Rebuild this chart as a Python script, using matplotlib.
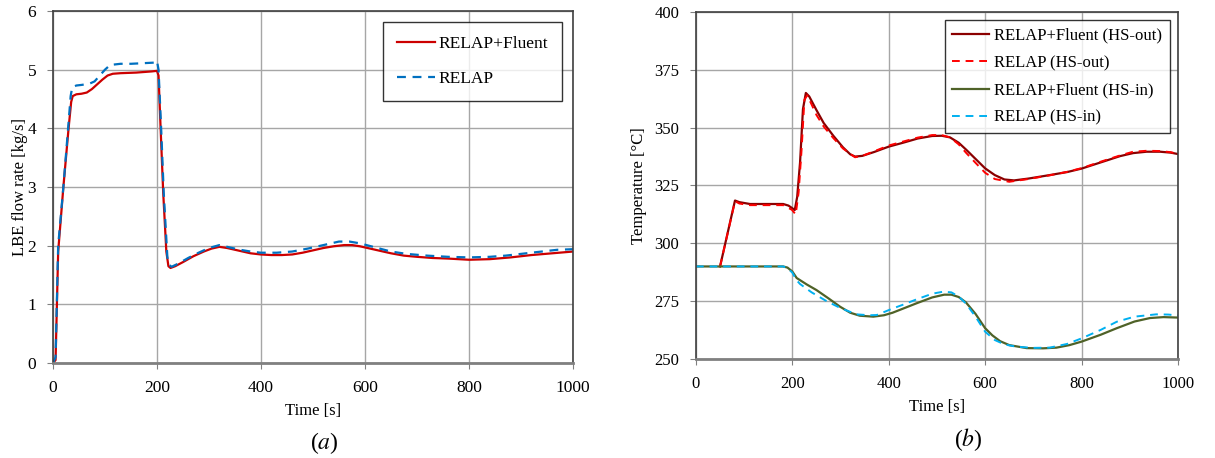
import matplotlib.pyplot as plt

plt.rcParams['font.family'] = ['Liberation Serif', 'DejaVu Serif']
plt.rcParams['mathtext.fontset'] = 'stix'

# (a) LBE flow rate [kg/s]
t_fl = [0, 5, 10, 20, 30, 35, 38, 45, 55, 65, 75, 85, 95, 105, 115, 130, 160, 190,
        200, 203, 207, 212, 218, 222, 226, 235, 250, 270, 290, 305, 320, 335, 350,
        365, 380, 400, 420, 440, 460, 480, 500, 520, 540, 560, 575, 590, 610, 630,
        650, 675, 700, 730, 760, 800, 840, 880, 920, 960, 1000]
fl_coupled = [0, 0.05, 1.9, 3.0, 4.0, 4.45, 4.55, 4.58, 4.59, 4.61, 4.67, 4.75, 4.83,
              4.9, 4.93, 4.94, 4.95, 4.97, 4.98, 4.9, 4.0, 2.9, 1.9, 1.65, 1.62, 1.65,
              1.72, 1.82, 1.9, 1.95, 1.98, 1.96, 1.93, 1.9, 1.87, 1.85, 1.84, 1.84,
              1.85, 1.88, 1.92, 1.96, 1.99, 2.01, 2.01, 1.99, 1.95, 1.91, 1.87, 1.83,
              1.81, 1.79, 1.78, 1.76, 1.77, 1.8, 1.84, 1.87, 1.9]
t_fl_r = [0, 5, 10, 20, 30, 34, 37, 45, 55, 70, 80, 90, 100, 110, 130, 150, 195, 200,
          203, 208, 213, 220, 224, 228, 240, 260, 280, 300, 320, 340, 360, 380, 400,
          430, 460, 490, 520, 550, 570, 590, 620, 650, 680, 720, 760, 800, 840, 870,
          900, 940, 970, 1000]
fl_relap = [0, 0.1, 2.0, 3.0, 4.1, 4.55, 4.7, 4.73, 4.74, 4.76, 4.8, 4.9, 5.0, 5.08,
            5.1, 5.1, 5.12, 5.15, 5.0, 4.0, 2.9, 1.8, 1.67, 1.64, 1.69, 1.79, 1.88,
            1.96, 2.01, 1.97, 1.93, 1.9, 1.88, 1.88, 1.9, 1.95, 2.01, 2.07, 2.07,
            2.04, 1.97, 1.9, 1.86, 1.83, 1.81, 1.80, 1.81, 1.83, 1.86, 1.9, 1.93, 1.94]

# (b) temperatures [°C]
t_out = [50, 81, 90, 112, 150, 181, 192, 199, 205, 210, 216, 222, 228, 235, 250, 265,
         285, 305, 320, 330, 345, 370, 400, 430, 460, 490, 510, 527, 545, 561, 580,
         600, 620, 640, 660, 690, 734, 770, 800, 840, 880, 907, 935, 963, 985, 1000]
out_coupled = [290, 318.5, 317.8, 317, 317, 317, 316.3, 315.3, 314.4, 320, 335, 358,
               365, 363.5, 357.6, 352, 346.5, 341.5, 338.5, 337.5, 337.8, 339.5,
               341.8, 343.5, 345.3, 346.4, 346.5, 345.8, 343.5, 340.4, 336.5, 332.4,
               329.5, 327.6, 327.2, 328, 329.5, 330.8, 332.3, 335, 337.7, 339.0,
               339.6, 339.6, 339.2, 338.6]
t_out_r = [50, 81, 90, 112, 150, 181, 199, 207, 213, 219, 225, 231, 250, 265, 285,
           305, 330, 345, 370, 400, 430, 460, 490, 510, 527, 545, 561, 580, 600, 620,
           650, 690, 734, 770, 800, 840, 880, 907, 935, 963, 985, 1000]
out_relap = [290, 318.2, 317.2, 316.5, 316.5, 316.5, 314.5, 312.5, 322, 340, 362, 364,
             355.5, 350.5, 345.5, 341, 337.2, 337.8, 339.8, 342.3, 344, 345.7, 346.8,
             346.8, 345.8, 342.8, 339, 334.8, 330.5, 327.8, 326.6, 327.8, 329.4,
             330.9, 332.5, 335.3, 338, 339.6, 340, 339.9, 339.4, 338.6]
t_in = [0, 181, 190, 200, 209, 230, 250, 275, 299, 320, 340, 368, 390, 408, 430, 458,
        490, 515, 530, 545, 560, 580, 600, 615, 631, 650, 686, 720, 748, 775, 800,
        840, 873, 910, 942, 970, 1000]
in_coupled = [290, 290, 289.5, 287.8, 285, 282.2, 279.8, 276.2, 272.6, 270.0, 268.7,
              268.3, 268.9, 270.0, 271.8, 274.1, 276.6, 277.8, 277.8, 276.8, 274.5,
              269.5, 263.3, 260.2, 257.7, 256, 254.7, 254.6, 254.9, 256, 257.5,
              260.5, 263.3, 266.2, 267.7, 268.1, 267.9]
t_in_r = [0, 181, 190, 200, 209, 216, 240, 271, 300, 333, 360, 375, 408, 430, 458,
          490, 513, 530, 545, 560, 580, 600, 620, 640, 665, 700, 734, 770, 800, 840,
          873, 910, 955, 980, 1000]
in_relap = [290, 290, 289.3, 287.3, 284, 282.4, 278.8, 275, 272, 269.3, 268.9, 269,
            271.8, 273.5, 275.8, 278.2, 279.1, 278.8, 277, 274, 268.3, 261.8, 258.2,
            256.3, 255.3, 254.8, 254.9, 256.5, 258.9, 262.6, 266.1, 268.3, 269.3,
            269.2, 268.8]

fig = plt.figure(figsize=(12.15, 4.58), dpi=100)
ax1 = fig.add_axes([0.0436, 0.2074, 0.428, 0.7686])
ax2 = fig.add_axes([0.5728, 0.2162, 0.3967, 0.7576])

ax1.plot(t_fl, fl_coupled, color='#CC0000', lw=1.6, label='RELAP+Fluent')
ax1.plot(t_fl_r, fl_relap, color='#0070C0', lw=1.6, ls=(0, (4, 3)), label='RELAP')
ax1.set_xlim(0, 1000)
ax1.set_ylim(0, 6)
ax1.set_xticks(range(0, 1001, 200))
ax1.set_yticks(range(0, 7))
ax1.set_xlabel('Time [s]', fontsize=12, labelpad=5)
ax1.set_ylabel('LBE flow rate [kg/s]', fontsize=12, labelpad=0)
leg1 = ax1.legend(loc='upper right', fontsize=12.5, labelspacing=1.07,
                  fancybox=False, edgecolor='black', borderpad=0.8,
                  borderaxespad=0.63, handlelength=2.2, handletextpad=0.2)

ax2.plot(t_out, out_coupled, color='#8B0000', lw=1.6, label='RELAP+Fluent (HS-out)')
ax2.plot(t_out_r, out_relap, color='#FF0000', lw=1.4, ls=(0, (4, 3)), label='RELAP (HS-out)')
ax2.plot(t_in, in_coupled, color='#4F6228', lw=1.6, label='RELAP+Fluent (HS-in)')
ax2.plot(t_in_r, in_relap, color='#00B0F0', lw=1.4, ls=(0, (4, 3)), label='RELAP (HS-in)')
ax2.set_xlim(0, 1000)
ax2.set_ylim(250, 400)
ax2.set_xticks(range(0, 1001, 200))
ax2.set_yticks(range(250, 401, 25))
ax2.set_xlabel('Time [s]', fontsize=12, labelpad=5)
ax2.set_ylabel('Temperature [°C]', fontsize=12, labelpad=5)
leg2 = ax2.legend(loc='upper right', fontsize=12, labelspacing=0.68,
                  fancybox=False, edgecolor='black', borderpad=0.45,
                  borderaxespad=0.5, handlelength=2.2, handletextpad=0.3)

for ax, fs in ((ax1, 12.5), (ax2, 12)):
    ax.grid(True, color='#A6A6A6', lw=1)
    ax.set_axisbelow(True)
    ax.tick_params(labelsize=fs, direction='out', length=4, pad=8, color='#808080')
    for s in ax.spines.values():
        s.set_color('#404040')
        s.set_linewidth(1.2)
    ax.spines['bottom'].set_color('#808080')
    ax.spines['bottom'].set_linewidth(2)
for leg in (leg1, leg2):
    leg.get_frame().set_linewidth(1)

fig.text(324 / 1215, 1 - 443 / 458, '($a$)', ha='center', va='center', fontsize=17)
fig.text(968 / 1215, 1 - 440 / 458, '($b$)', ha='center', va='center', fontsize=17)

fig.savefig('out.png', dpi=100)
